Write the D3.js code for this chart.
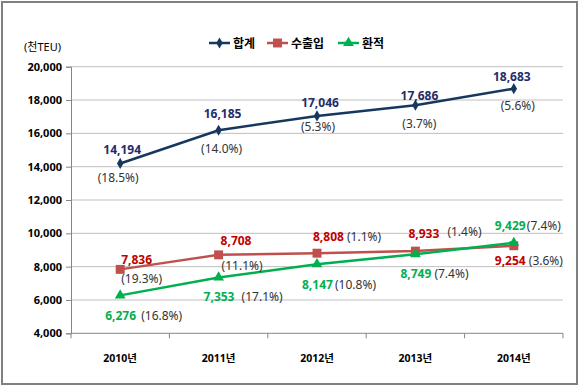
<!DOCTYPE html>
<html>
<head>
<meta charset="utf-8">
<script src="https://cdn.jsdelivr.net/npm/d3@7"></script>
<style>
	body { margin: 0; background: #fff; }
	svg { display: block; font-family: "Noto Sans", "Noto Sans CJK KR", sans-serif; }
</style>
</head>
<body>
<div id="chart"></div>
<script>
// Data
var years = ["2010년", "2011년", "2012년", "2013년", "2014년"];
var totalValues = [14194, 16185, 17046, 17686, 18683];
var totalRates = [18.5, 14.0, 5.3, 3.7, 5.6];
var tradeValues = [7836, 8708, 8808, 8933, 9254];
var tradeRates = [19.3, 11.1, 1.1, 1.4, 3.6];
var transValues = [6276, 7353, 8147, 8749, 9429];
var transRates = [16.8, 17.1, 10.8, 7.4, 7.4];
var yTicks = [4000, 6000, 8000, 10000, 12000, 14000, 16000, 18000, 20000];
var seriesNames = ["합계", "수출입", "환적"];
var unitLabel = "(천TEU)";

var width = 580, height = 387;

var svg = d3.select("#chart").append("svg")
	.attr("width", width)
	.attr("height", height);

// outer frame
svg.append("rect")
	.attr("x", 2).attr("y", 2)
	.attr("width", 575).attr("height", 382)
	.attr("fill", "#fff")
	.attr("stroke", "#808080")
	.attr("stroke-width", 2);

var x = d3.scaleBand().domain(years).range([71, 563]).padding(0);
var y = d3.scaleLinear().domain([4000, 20000]).range([333.3, 66.7]);
var cx = function(i) { return x(years[i]) + x.bandwidth() / 2; };

// gridlines
svg.append("g")
	.selectAll("line")
	.data(yTicks.slice(1))
	.enter().append("line")
	.attr("x1", 71).attr("x2", 563)
	.attr("y1", function(d) { return y(d); })
	.attr("y2", function(d) { return y(d); })
	.attr("stroke", "#bfbfbf")
	.attr("stroke-width", 1);

// y axis
var yAxis = d3.axisLeft(y).tickValues(yTicks).tickFormat(d3.format(",")).tickSize(5).tickPadding(4);
var gy = svg.append("g").attr("transform", "translate(71,0)").call(yAxis);
gy.select(".domain").attr("stroke", "#868686");
gy.selectAll(".tick line").attr("stroke", "#868686");
gy.selectAll("text")
	.attr("font-size", 11)
	.attr("font-weight", "bold")
	.attr("fill", "#000")
	.attr("font-family", "Noto Sans, sans-serif");

// x axis
var gx = svg.append("g").attr("transform", "translate(0," + y(4000) + ")");
gx.append("line")
	.attr("x1", 71).attr("x2", 563)
	.attr("stroke", "#868686");
gx.selectAll("line.tk")
	.data(d3.range(years.length + 1))
	.enter().append("line")
	.attr("class", "tk")
	.attr("x1", function(i) { return x.range()[0] + i * x.bandwidth(); })
	.attr("x2", function(i) { return x.range()[0] + i * x.bandwidth(); })
	.attr("y1", 0).attr("y2", 5)
	.attr("stroke", "#868686");
gx.selectAll("text")
	.data(years)
	.enter().append("text")
	.attr("x", function(d, i) { return cx(i); })
	.attr("y", 25)
	.attr("text-anchor", "middle")
	.attr("dominant-baseline", "central")
	.attr("font-size", 10.5)
	.attr("font-weight", "bold")
	.text(function(d) { return d; });

// unit
svg.append("text")
	.attr("x", 24).attr("y", 46)
	.attr("dominant-baseline", "central")
	.attr("font-size", 11)
	.attr("fill", "#000")
	.text(unitLabel);

// series
var series = [
	{ name: seriesNames[0], values: totalValues, rates: totalRates, line: "#17375e", label: "#1f2d6b", marker: "diamond", size: 36,
	  anchor: "middle",
	  vOff: [[2, -14], [4, -17], [3, -13], [4, -10], [-2, -12]],
	  rOff: [[-2, 14], [3, 18], [1, 11], [4, 18], [4, 17]] },
	{ name: seriesNames[1], values: tradeValues, rates: tradeRates, line: "#c0504d", label: "#c00000", marker: "square", size: 80,
	  anchor: "start",
	  vOff: [[1, -10], [2, -14], [-4, -17], [-7, -18], [-19, 15]],
	  rOff: [[1, 9], [3, 11], [30, -17], [32, -20], [15, 15]] },
	{ name: seriesNames[2], values: transValues, rates: transRates, line: "#00b050", label: "#00b050", marker: "triangle", size: 50,
	  anchor: "start",
	  vOff: [[-15, 20], [-15, 19], [-15, 20], [-15, 19], [-19, -17]],
	  rOff: [[21, 20], [23, 19], [18, 20], [19, 19], [13, -17]] }
];

var symbolOf = { diamond: d3.symbolDiamond, square: d3.symbolSquare, triangle: d3.symbolTriangle };

var line = d3.line()
	.x(function(d, i) { return cx(i); })
	.y(function(d) { return y(d); });

series.forEach(function(s) {
	svg.append("path")
		.datum(s.values)
		.attr("d", line)
		.attr("fill", "none")
		.attr("stroke", s.line)
		.attr("stroke-width", 2.5);

	svg.append("g").selectAll("path")
		.data(s.values)
		.enter().append("path")
		.attr("transform", function(d, i) { return "translate(" + cx(i) + "," + y(d) + ")"; })
		.attr("d", d3.symbol().type(symbolOf[s.marker]).size(s.size))
		.attr("fill", s.line);
});

// labels drawn after all lines
series.forEach(function(s) {
	var g = svg.append("g");
	s.values.forEach(function(v, i) {
		g.append("text")
			.attr("x", cx(i) + s.vOff[i][0])
			.attr("y", y(v) + s.vOff[i][1])
			.attr("text-anchor", s.anchor)
			.attr("dominant-baseline", "central")
			.attr("font-size", 12)
			.attr("font-weight", "bold")
			.attr("fill", s.label)
			.text(d3.format(",")(v));
		g.append("text")
			.attr("x", cx(i) + s.rOff[i][0])
			.attr("y", y(v) + s.rOff[i][1])
			.attr("text-anchor", s.anchor)
			.attr("dominant-baseline", "central")
			.attr("font-size", 12)
			.attr("fill", "#333")
			.text("(" + s.rates[i].toFixed(1) + "%)");
	});
});

// legend
var legendX = [209, 267, 338];
var legend = svg.append("g");
series.forEach(function(s, i) {
	var lg = legend.append("g").attr("transform", "translate(" + legendX[i] + ",43)");
	lg.append("line")
		.attr("x1", 0).attr("x2", 21)
		.attr("stroke", s.line)
		.attr("stroke-width", 2.5);
	lg.append("path")
		.attr("transform", "translate(10.5,0)")
		.attr("d", d3.symbol().type(symbolOf[s.marker]).size(s.size))
		.attr("fill", s.line);
	lg.append("text")
		.attr("x", 24)
		.attr("dominant-baseline", "central")
		.attr("font-size", 12)
		.attr("font-weight", "bold")
		.attr("fill", "#000")
		.text(s.name);
});
</script>
</body>
</html>
